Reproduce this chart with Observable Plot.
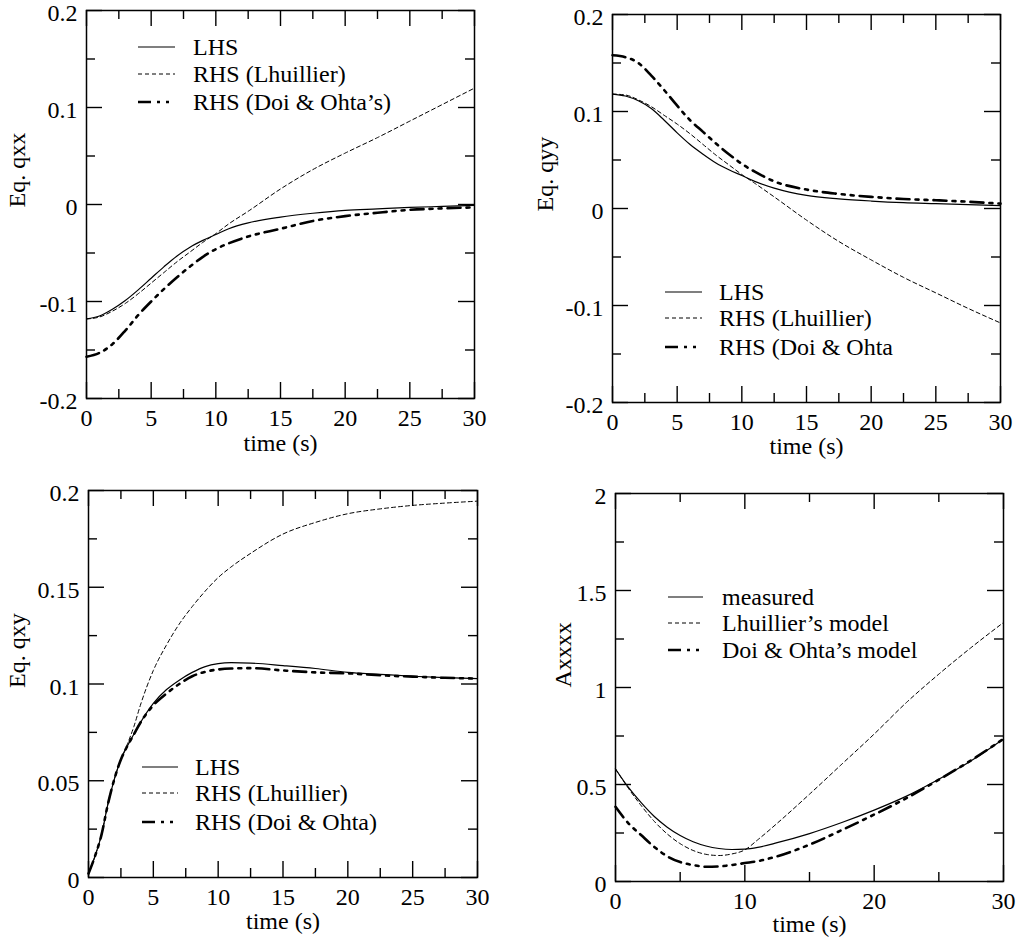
<!DOCTYPE html>
<html>
<head>
<meta charset="utf-8">
<script src="https://cdn.jsdelivr.net/npm/d3@7"></script>
<script src="https://cdn.jsdelivr.net/npm/@observablehq/plot@0.6"></script>
<style>
html, body { margin: 0; padding: 0; background: #fff; }
#chart { position: relative; width: 1018px; height: 940px; overflow: hidden; font-family: "Liberation Serif", "Times New Roman", serif; }
#chart > svg { position: absolute; }
</style>
</head>
<body>
<div id="chart"></div>
<script>
// ---------- Data ----------
const timeQ = [0, 1, 2, 3, 4, 5, 6, 7, 8, 9, 10, 11, 12.5, 15, 17.5, 20, 22.5, 25, 27.5, 30];

const qxxLHS       = [-0.118, -0.115, -0.108, -0.099, -0.088, -0.076, -0.064, -0.053, -0.044, -0.037, -0.031, -0.025, -0.019, -0.013, -0.009, -0.006, -0.0045, -0.003, -0.002, -0.001];
const qxxLhuillier = [-0.118, -0.116, -0.110, -0.102, -0.092, -0.081, -0.070, -0.059, -0.049, -0.039, -0.030, -0.020, -0.007, 0.016, 0.036, 0.053, 0.069, 0.086, 0.103, 0.120];
const qxxDoi       = [-0.157, -0.153, -0.144, -0.130, -0.114, -0.100, -0.087, -0.075, -0.064, -0.054, -0.046, -0.040, -0.033, -0.025, -0.017, -0.012, -0.0085, -0.0055, -0.004, -0.003];

const qyyLHS       = [0.118, 0.116, 0.111, 0.103, 0.091, 0.078, 0.066, 0.056, 0.047, 0.040, 0.034, 0.028, 0.021, 0.0135, 0.010, 0.0077, 0.006, 0.005, 0.004, 0.003];
const qyyLhuillier = [0.118, 0.117, 0.112, 0.105, 0.096, 0.087, 0.077, 0.066, 0.055, 0.045, 0.035, 0.026, 0.012, -0.012, -0.034, -0.053, -0.071, -0.087, -0.103, -0.118];
const qyyDoi       = [0.158, 0.156, 0.150, 0.137, 0.122, 0.106, 0.091, 0.079, 0.067, 0.056, 0.046, 0.038, 0.028, 0.0195, 0.015, 0.012, 0.0098, 0.0085, 0.007, 0.005];

const timeQxy = [0, 0.5, 1, 1.5, 2, 2.5, 3, 3.5, 4, 5, 6, 7, 8, 9, 10, 11, 12.5, 15, 17.5, 20, 22.5, 25, 27.5, 30];
const qxyLHS       = [0.002, 0.011, 0.022, 0.038, 0.051, 0.061, 0.068, 0.074, 0.080, 0.090, 0.097, 0.102, 0.106, 0.109, 0.1105, 0.111, 0.1108, 0.1095, 0.108, 0.106, 0.105, 0.104, 0.1033, 0.1028];
const qxyLhuillier = [0.002, 0.011, 0.022, 0.038, 0.051, 0.061, 0.069, 0.078, 0.089, 0.107, 0.120, 0.131, 0.140, 0.148, 0.155, 0.1605, 0.1675, 0.1775, 0.1835, 0.188, 0.1905, 0.1923, 0.1935, 0.1945];
const qxyDoi       = [0.002, 0.011, 0.022, 0.038, 0.051, 0.061, 0.068, 0.074, 0.080, 0.089, 0.095, 0.100, 0.104, 0.1063, 0.1075, 0.108, 0.1082, 0.107, 0.106, 0.1055, 0.1045, 0.1038, 0.1032, 0.1028];

const timeA = [0, 1, 2, 3, 4, 5, 6, 7, 8, 9, 10, 11, 12.5, 15, 17.5, 20, 22.5, 25, 27.5, 30];
const axxxxMeasured  = [0.58, 0.485, 0.405, 0.335, 0.28, 0.237, 0.205, 0.183, 0.17, 0.165, 0.167, 0.176, 0.2, 0.247, 0.304, 0.368, 0.44, 0.527, 0.622, 0.734];
const axxxxLhuillier = [0.58, 0.48, 0.39, 0.31, 0.245, 0.195, 0.16, 0.14, 0.134, 0.142, 0.163, 0.215, 0.30, 0.45, 0.605, 0.76, 0.923, 1.069, 1.206, 1.335];
const axxxxDoi       = [0.385, 0.30, 0.238, 0.178, 0.13, 0.1, 0.085, 0.076, 0.078, 0.085, 0.095, 0.105, 0.13, 0.19, 0.265, 0.345, 0.43, 0.525, 0.625, 0.735];

// Tick values
const xTicks5 = [0, 5, 10, 15, 20, 25, 30];
const xMinor5 = [2.5, 7.5, 12.5, 17.5, 22.5, 27.5];
const xTicks10 = [0, 10, 20, 30];
const xMinor10 = [5, 15, 25];
const yTicksQ = [-0.2, -0.1, 0, 0.1, 0.2];
const yMinorQ = [-0.15, -0.05, 0.05, 0.15];
const yTicksQxy = [0, 0.05, 0.1, 0.15, 0.2];
const yMinorQxy = [0.025, 0.075, 0.125, 0.175];
const yTicksA = [0, 0.5, 1, 1.5, 2];
const yMinorA = [0.25, 0.75, 1.25, 1.75];

// Legend labels
const legendQxx = ["LHS", "RHS (Lhuillier)", "RHS (Doi & Ohta\u2019s)"];
const legendQyy = ["LHS", "RHS (Lhuillier)", "RHS (Doi & Ohta"];
const legendQxy = ["LHS", "RHS (Lhuillier)", "RHS (Doi & Ohta)"];
const legendA   = ["measured", "Lhuillier\u2019s model", "Doi & Ohta\u2019s model"];

// ---------- Styles ----------
const lineStyles = [
  {strokeWidth: 1.2, dash: null},
  {strokeWidth: 1, dash: "4,3"},
  {strokeWidth: 2.6, dash: "13,6,3,6,3,6"}
];
const FONT = 24;
const MAJOR = 16, MINOR = 9;

const chart = document.getElementById("chart");

function panel(cfg) {
  const {left, top, width, height, mL, mR, mT, mB, yDomain, xMajor, xMinor, yMajor, yMinor,
         t, series, yLabel, ylDx, ylDy, xlDy, legendLabels, legend} = cfg;
  const fw = width - mL - mR, fh = height - mT - mB;
  const marks = [];
  series.forEach((vals, k) => {
    const st = lineStyles[k];
    marks.push(Plot.line(t.map((x, i) => ({t: x, v: vals[i]})), {
      x: "t", y: "v", stroke: "#000", strokeWidth: st.strokeWidth,
      strokeDasharray: st.dash, curve: "monotone-x"
    }));
  });
  const tickStyle = {stroke: "#000", strokeWidth: 1.4};
  // inward ticks on all four sides
  for (const [vals, len] of [[xMajor, MAJOR], [xMinor, MINOR]]) {
    marks.push(Plot.tickX(vals, {x: d => d, insetTop: fh - len, ...tickStyle}));
    marks.push(Plot.tickX(vals, {x: d => d, insetBottom: fh - len, ...tickStyle}));
  }
  for (const [vals, len] of [[yMajor, MAJOR], [yMinor, MINOR]]) {
    marks.push(Plot.tickY(vals, {y: d => d, insetRight: fw - len, ...tickStyle}));
    marks.push(Plot.tickY(vals, {y: d => d, insetLeft: fw - len, ...tickStyle}));
  }
  marks.push(Plot.frame({stroke: "#000", strokeWidth: 1.5}));
  // tick labels
  marks.push(Plot.text(xMajor, {x: d => d, frameAnchor: "bottom", dy: 10, lineAnchor: "top",
    text: d => String(d), fontSize: FONT}));
  marks.push(Plot.text(yMajor, {y: d => d, frameAnchor: "left", dx: -9, dy: 3, textAnchor: "end",
    lineAnchor: "middle", text: d => String(d), fontSize: FONT}));
  // axis titles
  marks.push(Plot.text(["time (s)"], {frameAnchor: "bottom", dy: xlDy, lineAnchor: "bottom",
    text: d => d, fontSize: FONT}));
  marks.push(Plot.text([yLabel], {frameAnchor: "left", dx: ylDx, dy: ylDy, rotate: -90,
    lineAnchor: "middle", text: d => d, fontSize: FONT}));

  const svg = Plot.plot({
    width, height,
    marginLeft: mL, marginRight: mR, marginTop: mT, marginBottom: mB,
    x: {domain: [0, 30], axis: null},
    y: {domain: yDomain, axis: null},
    style: {fontFamily: "'Liberation Serif', 'Times New Roman', serif", fontSize: FONT + "px", background: "transparent", color: "#000", overflow: "visible"},
    marks
  });
  svg.style.left = left + "px";
  svg.style.top = top + "px";
  chart.appendChild(svg);

  // legend (inside the frame)
  const lg = d3.select(chart).append("svg")
    .attr("width", 1018).attr("height", 940)
    .style("left", "0px").style("top", "0px").style("pointer-events", "none")
    .style("font-family", "'Liberation Serif', 'Times New Roman', serif")
    .style("font-size", FONT + "px");
  legendLabels.forEach((label, k) => {
    const y = legend.rows[k];
    const st = lineStyles[k];
    lg.append("line").attr("x1", legend.x1).attr("x2", legend.x2).attr("y1", y).attr("y2", y)
      .attr("stroke", "#000").attr("stroke-width", st.strokeWidth)
      .attr("stroke-dasharray", st.dash);
    lg.append("text").attr("x", legend.tx).attr("y", y).attr("dy", "0.33em")
      .attr("fill", "#000").text(label);
  });
}

panel({left: 0, top: 0, width: 500, height: 470, mL: 86, mR: 26, mT: 10, mB: 72,
  yDomain: [-0.2, 0.2], xMajor: xTicks5, xMinor: xMinor5, yMajor: yTicksQ, yMinor: yMinorQ,
  t: timeQ, series: [qxxLHS, qxxLhuillier, qxxDoi], yLabel: "Eq. qxx", ylDx: -69, ylDy: 3, xlDy: 52,
  legendLabels: legendQxx, legend: {x1: 138, x2: 175, tx: 193, rows: [47, 74, 102]}});

panel({left: 509, top: 0, width: 509, height: 470, mL: 103, mR: 18, mT: 14, mB: 68,
  yDomain: [-0.2, 0.2], xMajor: xTicks5, xMinor: xMinor5, yMajor: yTicksQ, yMinor: yMinorQ,
  t: timeQ, series: [qyyLHS, qyyLhuillier, qyyDoi], yLabel: "Eq. qyy", ylDx: -67, ylDy: 3, xlDy: 51,
  legendLabels: legendQyy, legend: {x1: 665, x2: 702, tx: 719, rows: [292, 318, 347]}});

panel({left: 0, top: 470, width: 500, height: 470, mL: 88, mR: 23, mT: 20, mB: 63,
  yDomain: [0, 0.2], xMajor: xTicks5, xMinor: xMinor5, yMajor: yTicksQxy, yMinor: yMinorQxy,
  t: timeQxy, series: [qxyLHS, qxyLhuillier, qxyDoi], yLabel: "Eq. qxy", ylDx: -71, ylDy: 4, xlDy: 51,
  legendLabels: legendQxy, legend: {x1: 142, x2: 178, tx: 195, rows: [767, 793, 822]}});

panel({left: 509, top: 470, width: 509, height: 470, mL: 106, mR: 15, mT: 23, mB: 59,
  yDomain: [0, 2], xMajor: xTicks10, xMinor: xMinor10, yMajor: yTicksA, yMinor: yMinorA,
  t: timeA, series: [axxxxMeasured, axxxxLhuillier, axxxxDoi], yLabel: "Axxxx", ylDx: -52, ylDy: 0, xlDy: 50,
  legendLabels: legendA, legend: {x1: 668, x2: 703, tx: 722, rows: [597, 623, 650]}});
</script>
</body>
</html>
